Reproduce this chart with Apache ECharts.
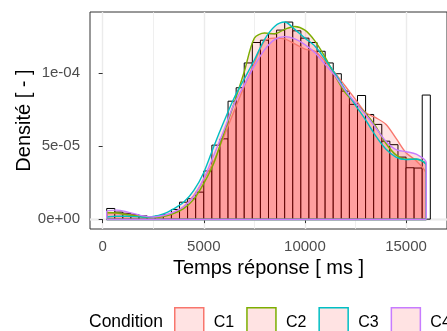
<!DOCTYPE html>
<html>
<head>
<meta charset="utf-8">
<script src="https://cdn.jsdelivr.net/npm/echarts@6/dist/echarts.min.js"></script>
<style>
  html, body { margin: 0; padding: 0; background: #fff; }
  #chart { width: 447px; height: 331px; }
</style>
</head>
<body>
<div id="chart"></div>
<script>
// histogram (all conditions), bins of 400 ms
const binLeft = [200, 600, 1000, 1400, 1800, 2200, 2600, 3000, 3400, 3800,
    4200, 4600, 5000, 5400, 5800, 6200, 6600, 7000, 7400, 7800,
    8200, 8600, 9000, 9400, 9800, 10200, 10600, 11000, 11400, 11800,
    12200, 12600, 13000, 13400, 13800, 14200, 14600, 15000, 15400, 15800];
const binWidth = 400;
const binDensity = [0.73e-5, 0.48e-5, 0.40e-5, 0.30e-5, 0.22e-5, 0.18e-5, 0.20e-5, 0.32e-5, 0.66e-5, 1.16e-5,
    1.40e-5, 1.85e-5, 3.30e-5, 5.07e-5, 5.50e-5, 8.08e-5, 9.00e-5, 10.7e-5, 12.1e-5, 12.26e-5,
    12.7e-5, 12.95e-5, 13.5e-5, 12.9e-5, 12.4e-5, 12.1e-5, 11.5e-5, 10.7e-5, 9.96e-5, 8.77e-5,
    7.86e-5, 8.47e-5, 7.17e-5, 6.49e-5, 5.34e-5, 5.10e-5, 4.25e-5, 3.52e-5, 3.50e-5, 8.50e-5];

// density curves per condition
const densX = [200, 700, 1200, 2000, 2500, 3000, 3500, 4000, 4500, 5000,
    5500, 6000, 6500, 7000, 7500, 8000, 8500, 9000, 9500, 10000,
    10500, 11000, 11500, 12000, 12500, 13000, 13500, 14000, 14500, 15000,
    15500, 16000];
const densC1 = [0.35e-5, 0.38e-5, 0.32e-5, 0.18e-5, 0.14e-5, 0.20e-5, 0.45e-5, 0.85e-5, 1.6e-5, 2.7e-5,
    4.0e-5, 5.7e-5, 7.4e-5, 9.1e-5, 10.7e-5, 12.2e-5, 12.4e-5, 12.35e-5, 12.0e-5, 11.65e-5,
    11.5e-5, 10.8e-5, 10.0e-5, 9.1e-5, 8.2e-5, 7.3e-5, 6.95e-5, 6.5e-5, 5.55e-5, 4.55e-5,
    4.0e-5, 3.05e-5];
const densC2 = [0.45e-5, 0.42e-5, 0.30e-5, 0.15e-5, 0.12e-5, 0.18e-5, 0.38e-5, 0.72e-5, 1.35e-5, 2.45e-5,
    3.85e-5, 5.9e-5, 7.95e-5, 10.1e-5, 12.4e-5, 12.75e-5, 12.7e-5, 13.0e-5, 13.2e-5, 12.95e-5,
    12.2e-5, 11.1e-5, 9.8e-5, 8.65e-5, 7.95e-5, 7.25e-5, 6.35e-5, 5.2e-5, 4.4e-5, 4.1e-5,
    4.1e-5, 3.7e-5];
const densC3 = [0.12e-5, 0.20e-5, 0.20e-5, 0.15e-5, 0.18e-5, 0.35e-5, 0.70e-5, 1.15e-5, 1.95e-5, 3.2e-5,
    5.0e-5, 6.7e-5, 8.3e-5, 9.6e-5, 10.9e-5, 12.3e-5, 13.2e-5, 13.5e-5, 13.0e-5, 12.4e-5,
    11.85e-5, 10.95e-5, 9.95e-5, 8.85e-5, 7.8e-5, 6.8e-5, 5.7e-5, 4.8e-5, 4.25e-5, 4.08e-5,
    4.12e-5, 3.65e-5];
const densC4 = [0.55e-5, 0.62e-5, 0.50e-5, 0.22e-5, 0.15e-5, 0.25e-5, 0.48e-5, 0.85e-5, 1.55e-5, 2.8e-5,
    4.4e-5, 6.1e-5, 7.9e-5, 9.2e-5, 10.5e-5, 11.6e-5, 12.3e-5, 12.5e-5, 12.35e-5, 11.96e-5,
    11.4e-5, 10.6e-5, 9.8e-5, 8.8e-5, 7.97e-5, 7.17e-5, 6.26e-5, 5.34e-5, 4.77e-5, 4.62e-5,
    4.45e-5, 3.86e-5];

const conditions = ['C1', 'C2', 'C3', 'C4'];
const colors = ['#F8766D', '#7CAE00', '#00BFC4', '#C77CFF'];

const xTicks = [0, 5000, 10000, 15000];
const xMinor = [2500, 7500, 12500];
const yTicks = [0, 5e-5, 1e-4];
const yTickLabels = ['0e+00', '5e-05', '1e-04'];
const yMinor = [2.5e-5, 7.5e-5, 1.25e-4];

const FONT = 'Liberation Sans, Arial, Helvetica, sans-serif';
const AREA_FILL = 'rgba(255,0,0,0.11)';

let chart = echarts.init(document.getElementById('chart'), null, { renderer: 'canvas' });

let histData = binLeft.map((x, i) => [x, x + binWidth, binDensity[i]]);

function gridLine(axis, v, w) {
    let d = {};
    d[axis] = v;
    d.lineStyle = { color: '#EBEBEB', width: w, type: 'solid' };
    return d;
}
let gridLines = []
    .concat(xTicks.map(v => gridLine('xAxis', v, 1.4)))
    .concat(xMinor.map(v => gridLine('xAxis', v, 0.8)))
    .concat(yTicks.map(v => gridLine('yAxis', v, 1.4)))
    .concat(yMinor.map(v => gridLine('yAxis', v, 0.8)));

let densSeries = [densC1, densC2, densC3, densC4].map((vals, k) => {
    let pts = densX.map((x, i) => [x, vals[i]]);
    pts.unshift([densX[0], 0]);
    pts.push([densX[densX.length - 1], 0]);
    return {
        name: conditions[k],
        type: 'line',
        data: pts,
        smooth: 0.3,
        showSymbol: false,
        z: 3,
        lineStyle: { color: colors[k], width: 1.4 },
        itemStyle: { color: colors[k] },
        areaStyle: { color: AREA_FILL, opacity: 1 },
        markLine: {
            silent: true,
            symbol: ['none', 'none'],
            label: { show: false },
            lineStyle: { color: colors[k], width: 1.4, type: 'solid' },
            data: [[{ coord: [densX[0], 0] }, { coord: [densX[densX.length - 1], 0] }]]
        }
    };
});

let option = {
    animation: false,
    backgroundColor: '#fff',
    textStyle: { fontFamily: FONT },
    grid: {
        left: 90, top: 12, width: 360, height: 217,
        show: true, borderColor: '#333333', borderWidth: 1, backgroundColor: '#fff'
    },
    xAxis: {
        type: 'value',
        min: -626, max: 17025,
        name: 'Temps réponse [ ms ]',
        nameLocation: 'middle',
        nameGap: 25,
        nameTextStyle: { fontSize: 20, color: '#000', fontFamily: FONT },
        axisLine: { show: false },
        splitLine: { show: false },
        axisTick: { show: true, customValues: xTicks, length: 4, lineStyle: { color: '#333', width: 1 } },
        axisLabel: {
            customValues: xTicks, margin: 10, fontSize: 15, color: '#4D4D4D', fontFamily: FONT,
            formatter: v => String(v)
        }
    },
    yAxis: {
        type: 'value',
        min: -6.76e-6, max: 1.419e-4,
        name: 'Densité [ - ]',
        nameLocation: 'middle',
        nameGap: 56,
        nameMoveOverlap: false,
        nameTextStyle: { fontSize: 20, color: '#000', fontFamily: FONT },
        axisLine: { show: false },
        splitLine: { show: false },
        axisTick: { show: true, customValues: yTicks, length: 4, lineStyle: { color: '#333', width: 1 } },
        axisLabel: {
            customValues: yTicks, margin: 10, fontSize: 15, color: '#4D4D4D', fontFamily: FONT,
            formatter: function (v) {
                let i = yTicks.indexOf(v);
                return i >= 0 ? yTickLabels[i] : '';
            }
        }
    },
    legend: {
        data: conditions.map((c, k) => ({
            name: c, icon: 'rect',
            itemStyle: { color: AREA_FILL, borderColor: colors[k], borderWidth: 1.5 }
        })),
        left: 174, top: 307, width: 400,
        padding: 0,
        orient: 'horizontal',
        itemWidth: 29, itemHeight: 29, itemGap: 12,
        selectedMode: false,
        textStyle: { fontSize: 16, color: '#000', fontFamily: FONT, padding: [0, 0, 0, 5] }
    },
    graphic: [{
        type: 'text', left: 89, top: 313,
        style: { text: 'Condition', font: '17.5px ' + FONT, fill: '#000' }
    }],
    series: [
        {
            name: 'grid',
            type: 'line',
            data: [],
            z: 0,
            markLine: {
                silent: true, z: 0,
                symbol: ['none', 'none'],
                label: { show: false },
                data: gridLines
            }
        },
        {
            name: 'hist',
            type: 'custom',
            z: 1,
            data: histData,
            encode: { x: [0, 1], y: 2 },
            renderItem: function (params, api) {
                let p0 = api.coord([api.value(0), api.value(2)]);
                let p1 = api.coord([api.value(1), 0]);
                return {
                    type: 'rect',
                    shape: { x: p0[0], y: p0[1], width: p1[0] - p0[0], height: p1[1] - p0[1] },
                    style: { fill: '#fff', stroke: '#000', lineWidth: 1 }
                };
            }
        }
    ].concat(densSeries)
};

chart.setOption(option);
</script>
</body>
</html>
